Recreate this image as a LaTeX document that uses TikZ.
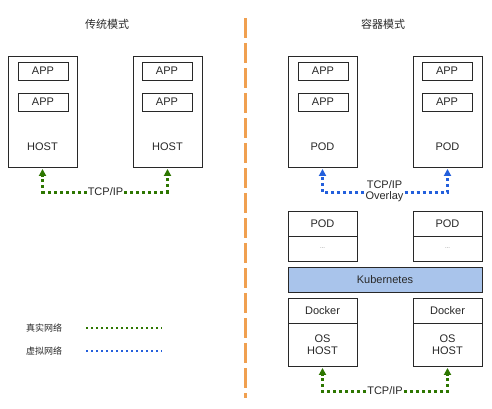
\documentclass[tikz,border=0pt]{standalone}
\usepackage{fontspec}
\setmainfont{Liberation Sans}
\newfontfamily\cjk{Noto Sans CJK SC}
\usetikzlibrary{arrows.meta,shadows}
\definecolor{tgreen}{RGB}{45,118,0}
\definecolor{tblue}{RGB}{35,95,220}
\definecolor{torange}{RGB}{240,160,80}
\definecolor{kfill}{RGB}{169,196,235}
\definecolor{ink}{RGB}{40,40,40}
\begin{document}
\begin{tikzpicture}[x=1pt,y=-1pt,
  every node/.style={text=ink},
  txt/.style={font=\fontsize{11}{13}\selectfont},
  box/.style={draw=ink, line width=0.9pt, fill=white, inner sep=0pt, txt,
    drop shadow={shadow xshift=1.2pt, shadow yshift=-1.2pt, opacity=0.25}},
  appbox/.style={box, minimum width=50pt, minimum height=18pt},
  bigbox/.style={box, minimum width=69pt, minimum height=111pt},
  halfbox/.style={box, minimum width=69pt, minimum height=25pt},
  title/.style={font=\cjk\fontsize{11}{13}\selectfont},
  legtxt/.style={font=\cjk\fontsize{9}{11}\selectfont},
  lbl/.style={txt, inner sep=1pt, align=center},
  gnet/.style={draw=tgreen, line width=3pt, dash pattern=on 3pt off 3pt,
    -{Triangle[length=7pt,width=7pt]}, shorten >=1.5pt},
  bnet/.style={draw=tblue, line width=3pt, dash pattern=on 3pt off 3pt,
    -{Triangle[length=7pt,width=7pt]}, shorten >=1.5pt},
  gleg/.style={draw=tgreen, line width=2pt, dash pattern=on 2pt off 3pt},
  bleg/.style={draw=tblue, line width=2pt, dash pattern=on 2pt off 3pt},
  divider/.style={draw=torange, line width=2.5pt, dash pattern=on 20pt off 5pt}
]
\useasboundingbox (0,0) rectangle (492,408);

% divider
\coordinate (dtop) at (245.5,18);
\coordinate (dbot) at (245.5,398);
\draw[divider] (dtop) -- (dbot);

% ---------- left: traditional ----------
\node[title] (titleL) at (107,24) {传统模式};

\node[bigbox] (host1) at (42.5,111.5) {};
\node[appbox] (app11) at (43,71) {APP};
\node[appbox] (app12) at (43,102) {APP};
\node[txt] (host1t) at (42.5,147) {HOST};

\node[bigbox] (host2) at (167.5,111.5) {};
\node[appbox] (app21) at (167,71) {APP};
\node[appbox] (app22) at (167,102) {APP};
\node[txt] (host2t) at (167.5,147) {HOST};

\node[lbl] (tcpL) at (105.5,192) {TCP/IP};
\draw[gnet] (tcpL.west) -| (host1.south);
\draw[gnet] (tcpL.east) -| (host2.south);

% legend
\node[legtxt] (legR) at (44,328) {真实网络};
\node[legtxt] (legV) at (44,351) {虚拟网络};
\coordinate (lg1) at (86,328);
\coordinate (lg2) at (162,328);
\coordinate (lb1) at (86,351);
\coordinate (lb2) at (162,351);
\draw[gleg] (lg1) -- (lg2);
\draw[bleg] (lb1) -- (lb2);

% ---------- right: container ----------
\node[title] (titleR) at (383,24) {容器模式};

\node[bigbox] (pod1) at (322.5,111.5) {};
\node[appbox] (app31) at (323,71) {APP};
\node[appbox] (app32) at (323,102) {APP};
\node[txt] (pod1t) at (322.5,147) {POD};

\node[bigbox] (pod2) at (447.5,111.5) {};
\node[appbox] (app41) at (447,71) {APP};
\node[appbox] (app42) at (447,102) {APP};
\node[txt] (pod2t) at (447.5,147) {POD};

\node[lbl] (tcpO) at (384.5,191.5) {TCP/IP\\[-2pt]Overlay};
\draw[bnet] (tcpO.west |- 0,192) -| (pod1.south);
\draw[bnet] (tcpO.east |- 0,192) -| (pod2.south);

% small pods
\node[halfbox] (podA) at (322.5,223.5) {POD};
\node[halfbox, font=\fontsize{6}{7}\selectfont, text=gray] (podAd) at (322.5,248.5) {...};
\node[halfbox] (podB) at (447.5,223.5) {POD};
\node[halfbox, font=\fontsize{6}{7}\selectfont, text=gray] (podBd) at (447.5,248.5) {...};

% kubernetes
\node[box, fill=kfill, minimum width=194pt, minimum height=25pt] (kube) at (385,279.5) {Kubernetes};

% docker hosts
\node[halfbox] (dock1) at (322.5,310.5) {Docker};
\node[box, minimum width=69pt, minimum height=43pt, align=center] (os1) at (322.5,344.5) {OS\\[-1pt]HOST};
\node[halfbox] (dock2) at (447.5,310.5) {Docker};
\node[box, minimum width=69pt, minimum height=43pt, align=center] (os2) at (447.5,344.5) {OS\\[-1pt]HOST};

\node[lbl] (tcpR) at (385,391) {TCP/IP};
\draw[gnet] (tcpR.west) -| (os1.south);
\draw[gnet] (tcpR.east) -| (os2.south);
\end{tikzpicture}
\end{document}
